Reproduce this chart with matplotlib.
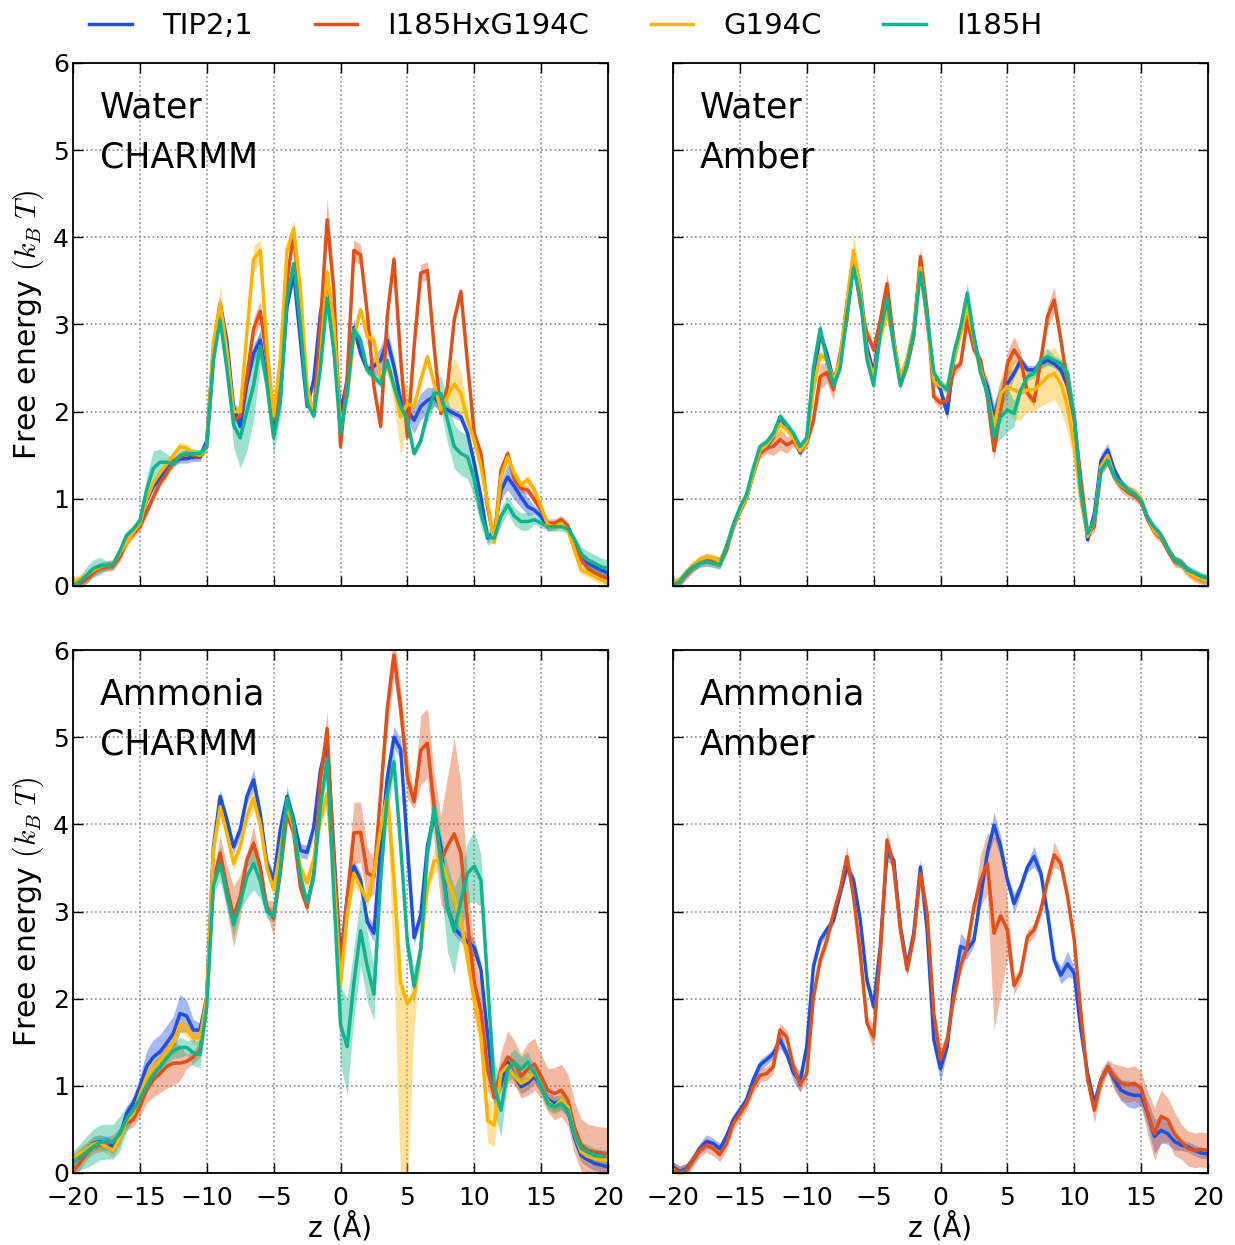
import matplotlib
matplotlib.use("Agg")
import matplotlib.pyplot as plt
import numpy as np

matplotlib.rcParams.update({'font.size': 18})
matplotlib.rcParams.update({'font.family': 'DejaVu Sans'})
matplotlib.rcParams['mathtext.fontset'] = 'cm'
matplotlib.rcParams['xtick.direction'] = 'in'
matplotlib.rcParams['ytick.direction'] = 'in'
matplotlib.rcParams['xtick.major.pad'] = '9.5'
matplotlib.rcParams['ytick.major.pad'] = '3'
matplotlib.rcParams['axes.linewidth'] = 1.3

# sample positions along the channel axis (0.5 A spacing)
z = np.arange(-20.0, 20.5, 0.5)

labels = ["TIP2;1", "I185HxG194C", "G194C", "I185H"]
colors = ['#1f4fdd', '#e0501a', '#ffb400', '#10b48c']

# ---------------- Water / CHARMM ----------------
wc_tip = [0.01, 0.05, 0.10, 0.18, 0.22, 0.23, 0.24, 0.37, 0.55, 0.62,
          0.72, 0.99, 1.14, 1.23, 1.33, 1.43, 1.46, 1.46, 1.48, 1.48,
          1.67, 2.74, 3.24, 2.82, 2.06, 1.83, 2.32, 2.67, 2.82, 2.36,
          1.79, 2.17, 3.20, 3.59, 2.82, 2.06, 2.36, 3.13, 3.55, 2.94,
          1.98, 2.36, 2.97, 2.67, 2.48, 2.52, 2.59, 2.82, 2.52, 2.13,
          2.02, 1.90, 2.06, 2.13, 2.17, 2.06, 2.02, 1.98, 1.94, 1.75,
          1.41, 1.02, 0.55, 0.62, 1.10, 1.25, 1.14, 1.02, 0.91, 0.87,
          0.80, 0.68, 0.70, 0.74, 0.68, 0.49, 0.30, 0.26, 0.22, 0.18,
          0.15]
wc_dbl = [0.00, 0.03, 0.08, 0.15, 0.20, 0.22, 0.23, 0.33, 0.50, 0.60,
          0.68, 0.85, 1.02, 1.18, 1.29, 1.43, 1.48, 1.52, 1.50, 1.50,
          1.60, 2.60, 3.15, 2.60, 1.90, 1.95, 2.40, 2.95, 3.15, 2.60,
          1.90, 2.30, 3.50, 4.05, 3.20, 2.20, 1.98, 3.00, 4.20, 3.40,
          1.60, 2.40, 3.85, 3.80, 3.13, 2.29, 1.83, 3.10, 3.75, 2.60,
          1.71, 2.74, 3.59, 3.62, 2.74, 1.98, 2.29, 3.05, 3.38, 2.55,
          1.75, 1.52, 0.90, 0.52, 1.33, 1.52, 1.22, 1.12, 1.10, 0.99,
          0.87, 0.72, 0.72, 0.76, 0.68, 0.49, 0.30, 0.20, 0.15, 0.11,
          0.09]
wc_g194c = [0.05, 0.08, 0.12, 0.18, 0.22, 0.24, 0.25, 0.38, 0.50, 0.62,
            0.72, 1.00, 1.18, 1.30, 1.40, 1.50, 1.60, 1.58, 1.52, 1.50,
            1.60, 2.80, 3.25, 2.70, 2.00, 2.00, 2.90, 3.75, 3.85, 2.75,
            1.95, 2.60, 3.85, 4.10, 3.40, 2.30, 1.95, 2.60, 3.60, 3.00,
            1.83, 2.17, 2.86, 3.17, 2.86, 2.82, 2.36, 2.52, 2.29, 1.94,
            2.09, 2.06, 2.36, 2.63, 2.32, 2.02, 2.17, 2.32, 2.21, 1.90,
            1.67, 1.37, 0.95, 0.50, 1.25, 1.48, 1.29, 1.16, 1.22, 1.10,
            0.91, 0.70, 0.68, 0.72, 0.64, 0.41, 0.18, 0.15, 0.11, 0.07,
            0.03]
wc_i185h = [0.00, 0.05, 0.12, 0.20, 0.23, 0.24, 0.25, 0.40, 0.58, 0.65,
            0.75, 1.10, 1.35, 1.42, 1.42, 1.40, 1.50, 1.52, 1.52, 1.52,
            1.60, 2.60, 3.05, 2.50, 1.85, 1.70, 2.00, 2.30, 2.75, 2.30,
            1.70, 2.10, 3.30, 3.70, 3.00, 2.10, 1.95, 2.50, 3.30, 2.70,
            1.75, 2.21, 2.94, 2.82, 2.48, 2.40, 2.32, 2.59, 2.29, 2.06,
            1.90, 1.52, 1.67, 1.98, 2.21, 2.21, 1.90, 1.60, 1.52, 1.48,
            1.22, 0.83, 0.57, 0.55, 0.80, 0.93, 0.80, 0.74, 0.74, 0.76,
            0.72, 0.68, 0.68, 0.68, 0.66, 0.53, 0.37, 0.30, 0.26, 0.22,
            0.20]
# error bands: (default half width, {z: half width})
wc_tip_err = (0.05, {-9.0: 0.08, -6.5: 0.1, -6.0: 0.1, -3.5: 0.1, -1.0: 0.1, 1.0: 0.1,
                     2.5: 0.12, 3.0: 0.15, 3.5: 0.15, 4.0: 0.1, 5.0: 0.12, 5.5: 0.15,
                     6.0: 0.15, 6.5: 0.15, 7.0: 0.1, 12.0: 0.1, 12.5: 0.15, 13.0: 0.15,
                     13.5: 0.12, 14.0: 0.1})
wc_dbl_err = (0.05, {-9.0: 0.08, -6.5: 0.12, -6.0: 0.12, -3.5: 0.1, -1.0: 0.25, -0.5: 0.15,
                     1.0: 0.12, 1.5: 0.12, 4.0: 0.08, 6.0: 0.1, 6.5: 0.1})
wc_g194c_err = (0.05, {-9.0: 0.2, -8.5: 0.12, -6.5: 0.15, -6.0: 0.12, -3.5: 0.1, -1.0: 0.1,
                       -0.5: 0.1, 0.0: 0.2, 2.0: 0.12, 4.0: 0.2, 4.5: 0.45, 5.0: 0.2,
                       8.0: 0.2, 8.5: 0.3, 9.0: 0.25, 9.5: 0.15})
wc_i185h_err = (0.05, {-19.0: 0.1, -18.5: 0.1, -18.0: 0.1, -14.5: 0.15, -14.0: 0.2,
                       -13.5: 0.15, -13.0: 0.1, -8.0: 0.25, -7.5: 0.35, -7.0: 0.45,
                       -6.5: 0.4, -6.0: 0.2, -5.0: 0.2, -4.5: 0.15, -1.0: 0.15, 1.0: 0.1,
                       6.5: 0.1, 7.0: 0.15, 7.5: 0.2, 8.0: 0.25, 8.5: 0.25, 9.0: 0.25,
                       9.5: 0.25, 10.0: 0.2, 10.5: 0.15, 11.0: 0.1, 12.0: 0.1, 12.5: 0.1,
                       13.0: 0.1, 13.5: 0.1, 14.0: 0.1, 18.0: 0.08, 18.5: 0.1, 19.0: 0.1,
                       19.5: 0.1, 20.0: 0.1})

# ---------------- Water / Amber ----------------
wa_tip = [0.01, 0.05, 0.15, 0.22, 0.28, 0.32, 0.30, 0.28, 0.45, 0.68,
          0.87, 1.02, 1.29, 1.56, 1.60, 1.71, 1.94, 1.83, 1.71, 1.53,
          1.68, 2.36, 2.90, 2.67, 2.36, 2.59, 3.24, 3.78, 3.43, 2.74,
          2.44, 2.97, 3.39, 2.82, 2.36, 2.59, 2.94, 3.70, 3.05, 2.40,
          2.25, 1.98, 2.59, 2.94, 3.17, 2.86, 2.48, 2.29, 1.94, 2.21,
          2.32, 2.44, 2.59, 2.48, 2.48, 2.55, 2.59, 2.55, 2.48, 2.29,
          1.94, 1.14, 0.53, 0.83, 1.44, 1.56, 1.33, 1.18, 1.10, 1.06,
          0.98, 0.76, 0.65, 0.57, 0.41, 0.30, 0.26, 0.18, 0.13, 0.09,
          0.07]
wa_dbl = [0.01, 0.05, 0.13, 0.22, 0.28, 0.29, 0.28, 0.26, 0.41, 0.68,
          0.87, 1.02, 1.29, 1.52, 1.58, 1.60, 1.68, 1.62, 1.66, 1.56,
          1.64, 1.90, 2.40, 2.45, 2.25, 2.67, 3.05, 3.74, 3.24, 2.90,
          2.71, 3.05, 3.47, 2.82, 2.32, 2.52, 2.86, 3.78, 3.17, 2.17,
          2.10, 2.13, 2.48, 2.55, 3.05, 2.71, 2.59, 2.17, 1.55, 2.02,
          2.55, 2.71, 2.59, 2.21, 2.12, 2.59, 3.09, 3.28, 2.82, 2.32,
          1.90, 1.22, 0.60, 0.68, 1.33, 1.43, 1.25, 1.14, 1.08, 1.04,
          0.96, 0.76, 0.62, 0.55, 0.41, 0.28, 0.26, 0.16, 0.11, 0.08,
          0.07]
wa_g194c = [0.03, 0.07, 0.16, 0.24, 0.30, 0.33, 0.32, 0.28, 0.45, 0.68,
            0.87, 1.02, 1.29, 1.56, 1.62, 1.72, 1.85, 1.80, 1.70, 1.55,
            1.66, 2.25, 2.65, 2.60, 2.35, 2.60, 3.25, 3.85, 3.40, 2.65,
            2.40, 2.85, 3.15, 2.80, 2.40, 2.60, 2.95, 3.65, 3.05, 2.35,
            2.29, 2.29, 2.59, 2.90, 3.20, 2.82, 2.48, 2.21, 1.83, 2.21,
            2.29, 2.25, 2.21, 2.25, 2.25, 2.32, 2.40, 2.44, 2.32, 2.06,
            1.60, 0.98, 0.57, 0.75, 1.37, 1.50, 1.25, 1.16, 1.10, 1.08,
            1.00, 0.78, 0.63, 0.57, 0.43, 0.30, 0.26, 0.16, 0.11, 0.08,
            0.06]
wa_i185h = [0.01, 0.05, 0.15, 0.22, 0.26, 0.28, 0.26, 0.24, 0.45, 0.70,
            0.90, 1.05, 1.35, 1.60, 1.65, 1.75, 1.94, 1.85, 1.75, 1.60,
            1.70, 2.50, 2.95, 2.60, 2.30, 2.50, 3.10, 3.65, 3.30, 2.60,
            2.30, 2.90, 3.30, 2.75, 2.30, 2.55, 2.90, 3.60, 3.10, 2.45,
            2.32, 2.25, 2.67, 2.97, 3.36, 2.86, 2.44, 2.21, 1.71, 1.94,
            2.02, 1.98, 2.25, 2.40, 2.44, 2.59, 2.63, 2.59, 2.55, 2.44,
            1.94, 1.06, 0.60, 0.75, 1.33, 1.44, 1.25, 1.18, 1.10, 1.06,
            0.98, 0.78, 0.67, 0.58, 0.43, 0.30, 0.26, 0.18, 0.15, 0.11,
            0.09]
wa_tip_err = (0.05, {-9.0: 0.1, -6.5: 0.08, -4.0: 0.08, 0.5: 0.08, 2.0: 0.1, 3.5: 0.1,
                     4.0: 0.15, 4.5: 0.15, 5.0: 0.15, 12.0: 0.08, 12.5: 0.08})
wa_dbl_err = (0.06, {-12.5: 0.1, -12.0: 0.12, -11.5: 0.1, -9.0: 0.15, -8.5: 0.12,
                     -8.0: 0.12, -6.5: 0.12, -4.0: 0.12, -1.5: 0.12, 2.0: 0.12, 4.0: 0.1,
                     5.0: 0.15, 5.5: 0.15, 6.0: 0.1, 8.0: 0.12, 8.5: 0.15, 9.0: 0.1})
wa_g194c_err = (0.05, {-12.5: 0.08, -12.0: 0.1, -6.5: 0.2, -6.0: 0.12, -4.0: 0.1, 2.0: 0.1,
                       4.0: 0.12, 4.5: 0.2, 5.0: 0.3, 5.5: 0.35, 6.0: 0.3, 6.5: 0.25,
                       7.0: 0.25, 7.5: 0.25, 8.0: 0.3, 8.5: 0.3, 9.0: 0.3, 9.5: 0.3,
                       10.0: 0.2})
wa_i185h_err = (0.05, {-9.0: 0.1, 2.0: 0.12, 4.0: 0.12, 4.5: 0.25, 5.0: 0.25, 5.5: 0.15,
                       7.5: 0.1, 8.0: 0.1, 9.5: 0.12, 10.0: 0.1})

# ---------------- Ammonia / CHARMM ----------------
ac_tip = [0.13, 0.19, 0.26, 0.34, 0.36, 0.34, 0.30, 0.42, 0.68, 0.80,
          0.99, 1.22, 1.33, 1.39, 1.49, 1.60, 1.83, 1.80, 1.64, 1.64,
          2.02, 3.74, 4.32, 4.05, 3.74, 3.94, 4.32, 4.51, 4.12, 3.55,
          3.36, 3.94, 4.32, 4.05, 3.70, 3.68, 3.97, 4.62, 4.95, 3.70,
          2.45, 3.16, 3.52, 3.36, 2.88, 2.75, 3.75, 4.54, 5.00, 4.86,
          3.75, 2.70, 2.96, 3.75, 4.11, 3.75, 3.04, 2.81, 2.73, 2.65,
          2.59, 2.33, 1.58, 0.87, 1.03, 1.27, 1.11, 0.99, 1.03, 1.11,
          0.99, 0.84, 0.80, 0.82, 0.72, 0.40, 0.20, 0.15, 0.11, 0.09,
          0.07]
ac_dbl = [0.02, 0.11, 0.23, 0.30, 0.32, 0.34, 0.36, 0.45, 0.57, 0.61,
          0.76, 0.95, 1.07, 1.14, 1.22, 1.26, 1.26, 1.28, 1.33, 1.41,
          2.02, 3.36, 3.67, 3.28, 2.94, 3.17, 3.59, 3.78, 3.51, 3.05,
          2.92, 3.44, 4.12, 3.90, 3.28, 3.05, 3.44, 4.51, 5.10, 3.60,
          2.33, 3.16, 3.90, 3.91, 3.44, 3.40, 4.34, 5.33, 5.94, 5.33,
          4.54, 4.26, 4.85, 4.93, 4.19, 3.59, 3.75, 3.89, 3.67, 2.88,
          2.18, 1.86, 1.19, 0.87, 1.19, 1.33, 1.27, 1.11, 1.19, 1.25,
          1.11, 0.95, 0.91, 0.95, 0.84, 0.52, 0.32, 0.26, 0.24, 0.23,
          0.22]
ac_g194c = [0.17, 0.22, 0.27, 0.33, 0.35, 0.30, 0.26, 0.40, 0.60, 0.68,
            0.90, 1.10, 1.20, 1.28, 1.38, 1.50, 1.70, 1.65, 1.55, 1.55,
            2.00, 3.70, 4.20, 3.90, 3.55, 3.75, 4.10, 4.30, 4.00, 3.50,
            3.25, 3.70, 4.22, 3.95, 3.50, 3.33, 3.60, 4.05, 4.35, 3.40,
            2.15, 2.96, 3.44, 3.28, 3.12, 3.44, 3.95, 4.34, 3.36, 2.18,
            1.94, 2.06, 2.57, 3.28, 3.58, 3.59, 3.36, 3.16, 2.88, 2.45,
            1.98, 1.58, 0.60, 0.55, 1.15, 1.23, 1.11, 1.03, 1.07, 1.15,
            0.99, 0.82, 0.76, 0.84, 0.76, 0.44, 0.24, 0.19, 0.17, 0.15,
            0.15]
ac_i185h = [0.13, 0.18, 0.24, 0.30, 0.35, 0.36, 0.36, 0.45, 0.62, 0.72,
            0.85, 1.00, 1.12, 1.22, 1.32, 1.40, 1.44, 1.44, 1.38, 1.36,
            1.90, 3.30, 3.55, 3.20, 2.85, 3.10, 3.40, 3.55, 3.35, 3.00,
            2.95, 3.50, 4.30, 4.00, 3.40, 3.10, 3.40, 4.20, 4.75, 3.20,
            1.70, 1.45, 2.18, 2.78, 2.37, 2.05, 3.36, 4.34, 4.72, 3.75,
            2.65, 2.14, 2.57, 3.67, 4.19, 3.59, 3.04, 2.77, 3.12, 3.44,
            3.52, 3.36, 2.18, 0.99, 0.72, 1.19, 1.27, 1.19, 1.27, 1.15,
            0.99, 0.80, 0.76, 0.80, 0.72, 0.44, 0.28, 0.24, 0.20, 0.19,
            0.19]
ac_tip_err = (0.08, {-15.0: 0.12, -14.5: 0.18, -14.0: 0.2, -13.5: 0.2, -13.0: 0.2,
                     -12.5: 0.2, -12.0: 0.22, -11.5: 0.18, -11.0: 0.12, -6.5: 0.12,
                     -1.0: 0.12, 2.5: 0.1, 4.0: 0.12, 4.5: 0.12, 9.5: 0.1, 10.0: 0.1})
ac_dbl_err = (0.08, {-15.0: 0.12, -14.5: 0.15, -14.0: 0.2, -13.5: 0.22, -13.0: 0.25,
                     -12.5: 0.25, -12.0: 0.2, -9.0: 0.2, -8.5: 0.25, -8.0: 0.35,
                     -7.5: 0.25, -6.5: 0.2, -5.0: 0.2, -1.0: 0.2, 0.5: 0.25, 1.0: 0.35,
                     1.5: 0.35, 2.0: 0.3, 2.5: 0.2, 3.5: 0.25, 4.0: 0.25, 4.5: 0.25,
                     5.0: 0.25, 6.0: 0.4, 6.5: 0.4, 7.0: 0.4, 7.5: 0.5, 8.0: 0.8,
                     8.5: 1.1, 9.0: 0.8, 9.5: 0.5, 10.0: 0.35, 10.5: 0.3, 11.0: 0.25,
                     12.0: 0.2, 12.5: 0.3, 13.0: 0.25, 13.5: 0.25, 14.0: 0.3, 14.5: 0.3,
                     15.0: 0.25, 15.5: 0.25, 16.0: 0.3, 16.5: 0.3, 17.0: 0.3, 17.5: 0.3,
                     18.0: 0.3, 18.5: 0.3, 19.0: 0.3, 19.5: 0.3, 20.0: 0.3})
ac_g194c_err = (0.08, {-9.0: 0.12, -6.5: 0.15, -4.0: 0.15, -1.0: 0.15, 1.0: 0.15,
                       3.5: 0.25, 4.0: 0.3, 7.0: 0.15, 9.5: 0.15, 10.0: 0.2, 10.5: 0.2,
                       11.0: 0.25, 11.5: 0.25})
# the G194C band has a long one-sided tail below the curve near z = 4.5
ac_g194c_tail = {4.0: 0.8, 4.5: 2.2, 5.0: 2.0, 5.5: 0.3}
ac_i185h_err = (0.08, {-20.0: 0.12, -19.5: 0.15, -19.0: 0.18, -18.5: 0.2, -18.0: 0.2,
                       -17.5: 0.2, -17.0: 0.2, -16.5: 0.2, -16.0: 0.15, -15.5: 0.12,
                       -12.0: 0.12, -11.0: 0.15, -10.5: 0.15, -9.0: 0.2, -8.5: 0.15,
                       -8.0: 0.15, -7.0: 0.25, -6.5: 0.3, -6.0: 0.2, -4.0: 0.15,
                       -1.0: 0.2, -0.5: 0.3, 0.0: 0.45, 0.5: 0.55, 1.0: 0.4, 1.5: 0.4,
                       2.0: 0.4, 2.5: 0.3, 3.5: 0.2, 4.0: 0.15, 5.5: 0.2, 6.0: 0.15,
                       7.0: 0.2, 7.5: 0.3, 8.0: 0.5, 8.5: 0.5, 9.0: 0.35, 9.5: 0.35,
                       10.0: 0.4, 10.5: 0.3, 11.5: 0.3, 12.0: 0.3, 12.5: 0.15,
                       13.0: 0.15, 13.5: 0.15, 14.0: 0.12})

# ---------------- Ammonia / Amber ----------------
aa_tip = [0.07, 0.02, 0.05, 0.15, 0.28, 0.36, 0.34, 0.28, 0.42, 0.61,
          0.72, 0.84, 1.07, 1.24, 1.30, 1.37, 1.53, 1.37, 1.15, 1.05,
          1.45, 2.37, 2.67, 2.79, 2.90, 3.21, 3.51, 3.36, 2.90, 2.21,
          1.91, 2.60, 3.67, 3.59, 2.83, 2.37, 2.75, 3.51, 2.79, 1.53,
          1.20, 1.45, 2.14, 2.60, 2.56, 2.67, 3.17, 3.67, 3.99, 3.74,
          3.36, 3.09, 3.28, 3.51, 3.63, 3.44, 2.98, 2.44, 2.27, 2.40,
          2.29, 1.64, 1.14, 0.80, 1.07, 1.22, 1.07, 0.95, 0.91, 0.89,
          0.89, 0.68, 0.42, 0.49, 0.45, 0.36, 0.32, 0.30, 0.26, 0.23,
          0.22]
aa_dbl = [0.05, 0.00, 0.03, 0.15, 0.26, 0.32, 0.28, 0.21, 0.34, 0.57,
          0.68, 0.80, 0.99, 1.12, 1.14, 1.22, 1.64, 1.56, 1.22, 1.01,
          1.14, 2.02, 2.44, 2.67, 2.98, 3.25, 3.63, 3.17, 2.52, 1.72,
          1.56, 2.52, 3.82, 3.51, 2.79, 2.33, 2.71, 3.44, 2.98, 1.83,
          1.30, 1.53, 2.02, 2.37, 2.60, 3.05, 3.36, 3.55, 2.75, 2.95,
          2.79, 2.15, 2.29, 2.71, 2.79, 3.02, 3.36, 3.65, 3.55, 3.17,
          2.67, 1.83, 1.07, 0.72, 1.07, 1.22, 1.10, 1.03, 1.01, 1.03,
          0.97, 0.68, 0.45, 0.65, 0.61, 0.45, 0.36, 0.28, 0.26, 0.27,
          0.26]
aa_tip_err = (0.06, {-17.5: 0.08, -12.0: 0.1, -11.0: 0.1, -10.5: 0.12, -7.0: 0.08,
                     -5.0: 0.1, -4.0: 0.1, -2.5: 0.1, -1.5: 0.1, -0.5: 0.12, 0.0: 0.15,
                     1.5: 0.15, 2.0: 0.1, 4.0: 0.15, 4.5: 0.12, 5.5: 0.12, 7.0: 0.12,
                     9.0: 0.1, 9.5: 0.15, 13.0: 0.1, 13.5: 0.12, 14.0: 0.15, 14.5: 0.15,
                     15.0: 0.12, 15.5: 0.15, 16.0: 0.2, 16.5: 0.15, 17.0: 0.12,
                     17.5: 0.1})
aa_dbl_err = (0.08, {-7.0: 0.12, -5.0: 0.15, -4.0: 0.12, -1.5: 0.1, 0.0: 0.15, 3.0: 0.3,
                     3.5: 0.35, 4.0: 1.1, 4.5: 0.9, 5.0: 0.3, 5.5: 0.1, 8.5: 0.15,
                     11.5: 0.15, 12.0: 0.12, 13.0: 0.15, 13.5: 0.2, 14.0: 0.2,
                     14.5: 0.2, 15.0: 0.2, 15.5: 0.25, 16.0: 0.3, 16.5: 0.3,
                     17.0: 0.25, 17.5: 0.25, 18.0: 0.2, 18.5: 0.2, 19.0: 0.2,
                     19.5: 0.2, 20.0: 0.2})


def half_width(err):
    base, spots = err
    return np.array([spots.get(float(v), base) for v in z])


panels = [
    ("Water\nCHARMM", [wc_tip, wc_dbl, wc_g194c, wc_i185h],
     [wc_tip_err, wc_dbl_err, wc_g194c_err, wc_i185h_err], [None] * 4),
    ("Water\nAmber", [wa_tip, wa_dbl, wa_g194c, wa_i185h],
     [wa_tip_err, wa_dbl_err, wa_g194c_err, wa_i185h_err], [None] * 4),
    ("Ammonia\nCHARMM", [ac_tip, ac_dbl, ac_g194c, ac_i185h],
     [ac_tip_err, ac_dbl_err, ac_g194c_err, ac_i185h_err], [None, None, ac_g194c_tail, None]),
    ("Ammonia\nAmber", [aa_tip, aa_dbl], [aa_tip_err, aa_dbl_err], [None, None]),
]

fig = plt.figure(figsize=(12.35, 12.45), dpi=100)
W, H = 1235.0, 1245.0
boxes = [(73, 63, 608, 586), (673, 63, 1208, 586),
         (73, 650, 608, 1173), (673, 650, 1208, 1173)]

handles = []
for k, (title, series, errs, tails) in enumerate(panels):
    x0, y0, x1, y1 = boxes[k]
    ax = fig.add_axes([x0 / W, 1 - y1 / H, (x1 - x0) / W, (y1 - y0) / H])
    for i, vals in enumerate(series):
        vals = np.array(vals)
        hw = half_width(errs[i])
        lo = vals - hw
        if tails[i] is not None:
            lo = lo - np.array([tails[i].get(float(v), 0.0) for v in z])
        ax.fill_between(z, lo, vals + hw, color=colors[i], alpha=0.4, linewidth=0)
    for i, vals in enumerate(series):
        line, = ax.plot(z, vals, color=colors[i], linewidth=2.5, label=labels[i])
        if k == 0:
            handles.append(line)

    ax.set_xlim(-20, 20)
    ax.set_ylim(0, 6)
    ax.set_xticks(np.arange(-20, 21, 5))
    ax.set_yticks(np.arange(0, 7, 1))
    ax.tick_params(which='major', length=7, width=1, top=True, right=True, labelsize=18)
    ax.grid(which='major', color='#8c8c8c', linestyle=':', linewidth=1.2)
    ax.set_axisbelow(True)
    if k < 2:
        ax.set_xticklabels([])
    else:
        ax.set_xlabel(u"z (\u00c5)", fontsize=20, labelpad=1)
    if k % 2 == 1:
        ax.set_yticklabels([])
    else:
        ax.set_ylabel(r"Free energy $(k_B\;T)$", fontsize=21.5, labelpad=5)
    ax.text(0.05, 0.948, title, transform=ax.transAxes, fontsize=25,
            va='top', ha='left', linespacing=1.62)

fig.legend(handles=handles, loc='center', ncol=4, frameon=False, fontsize=21,
           bbox_to_anchor=(566 / W, 1 - 26 / H), handlelength=1.45,
           handletextpad=1.05, columnspacing=2.1)

fig.savefig("out.png", dpi=100)
